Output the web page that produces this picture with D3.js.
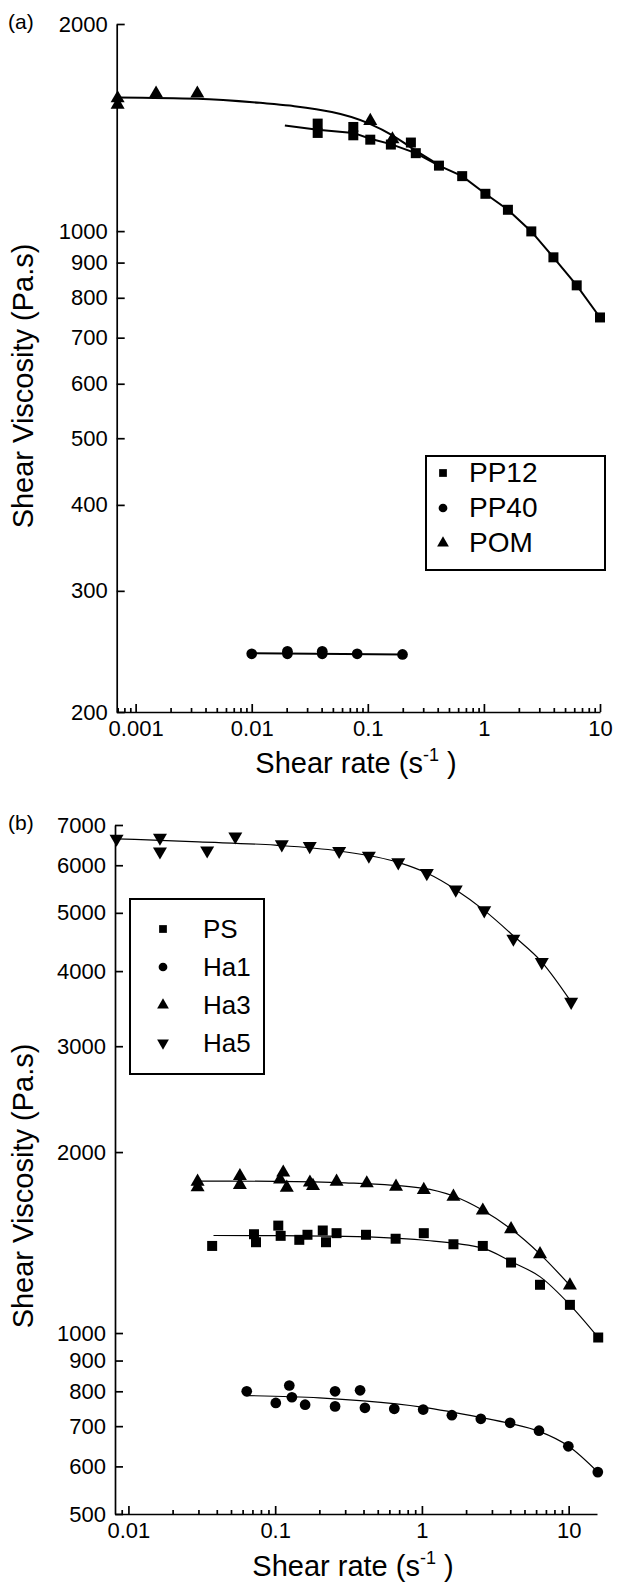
<!DOCTYPE html>
<html>
<head>
<meta charset="utf-8">
<script src="https://cdn.jsdelivr.net/npm/d3@7"></script>
<style>
  body { margin: 0; background: #fff; }
  svg { display: block; font-family: "Liberation Sans", Arial, sans-serif; }
</style>
</head>
<body>
<div id="chart"></div>
<script>
/*** DATA : panel (a) ***********************************************************/
let pp12Rate = [0.037, 0.037, 0.075, 0.075, 0.105, 0.158, 0.235, 0.259, 0.41, 0.65, 1.03, 1.61, 2.56, 3.97, 6.3, 10];
let pp12Visc = [1433, 1389, 1417, 1378, 1358, 1336, 1345, 1298, 1245, 1202, 1133, 1074, 999, 916, 834, 749];
let pp12FitRate = [0.0193, 0.037, 0.075, 0.105, 0.158, 0.259, 0.41, 0.65, 1.03, 1.61, 2.56, 3.97, 6.3, 10];
let pp12FitVisc = [1424, 1404, 1389, 1362, 1338, 1298, 1245, 1202, 1133, 1074, 999, 916, 834, 749];

let pp40Rate = [0.01, 0.0203, 0.0203, 0.0405, 0.0405, 0.081, 0.199];
let pp40Visc = [243, 245, 243, 245, 243, 243, 242.5];
let pp40FitRate = [0.01, 0.199];
let pp40FitVisc = [243.5, 242.5];

let pomRate = [0.0007, 0.0007, 0.0015, 0.0034, 0.105, 0.163];
let pomVisc = [1560, 1527, 1585, 1585, 1446, 1360];
let pomFitRate = [0.0007, 0.0034, 0.0118, 0.0213, 0.103, 0.163, 0.243, 0.41];
let pomFitVisc = [1564, 1557, 1536, 1522, 1433, 1378, 1318, 1248];

let ticksA = [200, 300, 400, 500, 600, 700, 800, 900, 1000, 2000];
let legendA = ["PP12", "PP40", "POM"];

/*** DATA : panel (b) ***********************************************************/
let psRate = [0.0372, 0.0717, 0.074, 0.105, 0.109, 0.146, 0.166, 0.211, 0.222, 0.262, 0.416, 0.662, 1.03, 1.64, 2.6, 4.05, 6.38, 10.2, 15.9];
let psVisc = [1396, 1460, 1416, 1509, 1451, 1429, 1457, 1481, 1416, 1466, 1457, 1435, 1466, 1405, 1396, 1310, 1203, 1114, 983];
let psFitRate = [0.038, 0.1, 0.3, 1, 2.6, 4.05, 6.4, 10.2, 15.9];
let psFitVisc = [1453, 1452, 1448, 1428, 1384, 1315, 1240, 1114, 983];

let ha1Rate = [0.064, 0.101, 0.1248, 0.13, 0.16, 0.256, 0.256, 0.379, 0.409, 0.648, 1.02, 1.6, 2.52, 3.99, 6.28, 9.95, 15.8];
let ha1Visc = [800, 765, 818, 782, 760, 800, 755, 803, 751, 748, 746, 730, 720, 709, 688, 648, 587];
let ha1FitRate = [0.064, 0.2, 0.4, 1, 2.5, 4, 6.3, 10, 15.8];
let ha1FitVisc = [787, 780, 771, 753, 724, 707, 686, 648, 587];

let ha3Rate = [0.0296, 0.0296, 0.0575, 0.0575, 0.108, 0.1135, 0.12, 0.1725, 0.181, 0.262, 0.421, 0.666, 1.03, 1.64, 2.6, 4.05, 6.38, 10.2];
let ha3Visc = [1786, 1748, 1825, 1764, 1800, 1849, 1745, 1780, 1757, 1786, 1775, 1752, 1730, 1686, 1599, 1489, 1353, 1200];
let ha3FitRate = [0.029, 0.1, 0.3, 1, 1.64, 2.6, 4.05, 6.38, 10.2];
let ha3FitVisc = [1790, 1788, 1778, 1742, 1690, 1600, 1489, 1353, 1200];

let ha5Rate = [0.0083, 0.0164, 0.0164, 0.0344, 0.0535, 0.111, 0.172, 0.273, 0.435, 0.69, 1.08, 1.7, 2.66, 4.2, 6.56, 10.4];
let ha5Visc = [6642, 6668, 6325, 6350, 6700, 6500, 6457, 6336, 6223, 6066, 5823, 5465, 5047, 4528, 4141, 3556];
let ha5FitRate = [0.0083, 0.03, 0.1, 0.273, 0.69, 1.08, 1.7, 2.66, 4.2, 6.56, 10.4];
let ha5FitVisc = [6640, 6560, 6480, 6336, 6066, 5823, 5465, 5047, 4580, 4141, 3556];

let ticksB = [500, 600, 700, 800, 900, 1000, 2000, 3000, 4000, 5000, 6000, 7000];
let legendB = ["PS", "Ha1", "Ha3", "Ha5"];

let xMajor = [0.001, 0.01, 0.1, 1, 10];

/*******************************************************************************/

function zip(xs, ys) { return xs.map(function(x, i) { return [x, ys[i]]; }); }

function minorTicks(domain) {
  let out = [];
  for (let e = -4; e <= 1; e++) {
    for (let m = 2; m <= 9; m++) {
      let v = m * Math.pow(10, e);
      if (v >= domain[0] && v <= domain[1]) out.push(v);
    }
  }
  return out;
}

let svg = d3.select("#chart").append("svg")
  .attr("width", 625)
  .attr("height", 1590);

/* marker shapes */
let shapes = {
  square:   d3.symbol().type(d3.symbolSquare).size(100),
  circle:   d3.symbol().type(d3.symbolCircle).size(90),
  triangle: d3.symbol().type(d3.symbolTriangle).size(85),
  down:     d3.symbol().type(d3.symbolTriangle).size(85)
};

function panel(cfg) {
  let x = d3.scaleLog().domain(cfg.xDomain).range(cfg.xRange);
  let y = d3.scaleLog().domain(cfg.yDomain).range(cfg.yRange);
  let g = svg.append("g");

  /* axes */
  let yAxis = d3.axisLeft(y)
    .tickValues(cfg.yTicks)
    .tickFormat(d3.format("d"))
    .tickSizeInner(-8).tickSizeOuter(0).tickPadding(9);
  let ay = g.append("g").attr("transform", "translate(" + cfg.xRange[0] + ",0)").call(yAxis);

  let xAxis = d3.axisBottom(x)
    .tickValues(xMajor.filter(function(v) { return v >= cfg.xDomain[0] && v <= cfg.xDomain[1]; }))
    .tickFormat(function(d) { return d >= 1 ? d3.format("d")(d) : d3.format("")(d); })
    .tickSizeInner(-8).tickSizeOuter(0).tickPadding(8);
  let ax = g.append("g").attr("transform", "translate(0," + cfg.yRange[0] + ")").call(xAxis);

  let xMinor = d3.axisBottom(x)
    .tickValues(minorTicks(cfg.xDomain))
    .tickFormat("")
    .tickSizeInner(-4).tickSizeOuter(0);
  g.append("g").attr("transform", "translate(0," + cfg.yRange[0] + ")").call(xMinor)
    .select(".domain").remove();

  [ax, ay].forEach(function(a) {
    a.selectAll("path, line").attr("stroke", "#000").attr("stroke-width", 1.7);
    a.selectAll("text").attr("fill", "#000").style("font-size", "22px")
      .style("font-family", "'Liberation Sans', Arial, sans-serif");
  });
  g.selectAll("line").attr("stroke", "#000").attr("stroke-width", 1.7);

  /* fit lines */
  cfg.series.forEach(function(s) {
    let line = d3.line()
      .x(function(d) { return x(d[0]); })
      .y(function(d) { return y(d[1]); })
      .curve(s.curve || d3.curveMonotoneX);
    g.append("path")
      .attr("d", line(zip(s.fitRate, s.fitVisc)))
      .attr("fill", "none")
      .attr("stroke", "#000")
      .attr("stroke-width", cfg.lineWidth);
  });

  /* points */
  cfg.series.forEach(function(s) {
    g.selectAll(null)
      .data(zip(s.rate, s.visc))
      .enter().append("path")
      .attr("d", shapes[s.shape])
      .attr("transform", function(d) {
        return "translate(" + x(d[0]) + "," + y(d[1]) + ")" + (s.shape == "down" ? " rotate(180)" : "");
      })
      .attr("fill", "#000");
  });

  /* panel letter */
  g.append("text").text(cfg.letter)
    .attr("x", 8).attr("y", cfg.yRange[1] + 5)
    .style("font-size", "21px");

  /* axis titles */
  g.append("text")
    .attr("transform", "translate(33," + cfg.yTitleY + ") rotate(-90)")
    .attr("text-anchor", "middle")
    .style("font-size", "29px")
    .text("Shear Viscosity (Pa.s)");

  let xt = g.append("text")
    .attr("x", cfg.xTitleX).attr("y", cfg.xTitleY)
    .attr("text-anchor", "middle")
    .style("font-size", "29px");
  xt.append("tspan").text("Shear rate (s");
  xt.append("tspan").text("-1").style("font-size", "18px").attr("dy", -12);
  xt.append("tspan").text(" )").attr("dy", 12);

  /* legend */
  let L = cfg.legend;
  g.append("rect")
    .attr("x", L.x).attr("y", L.y).attr("width", L.w).attr("height", L.h)
    .attr("fill", "#fff").attr("stroke", "#000").attr("stroke-width", 2);
  let legendG = g.selectAll(null)
    .data(cfg.series)
    .enter().append("g")
    .attr("transform", function(d, i) {
      return "translate(" + L.markX + "," + (L.rowY + i * L.step) + ")";
    });
  legendG.append("path")
    .attr("d", function(d) {
      let t = d.shape == "square" ? d3.symbolSquare : d.shape == "circle" ? d3.symbolCircle : d3.symbolTriangle;
      return d3.symbol().type(t).size(60)();
    })
    .attr("transform", function(d) { return d.shape == "down" ? "rotate(180)" : null; })
    .attr("fill", "#000");
  legendG.append("text")
    .text(function(d) { return d.name; })
    .attr("x", L.textDx).attr("y", 9)
    .style("font-size", L.font);
}

panel({
  letter: "(a)",
  xDomain: [0.000687, 10], xRange: [116.7, 600],
  yDomain: [200, 2000], yRange: [712, 24],
  yTicks: ticksA,
  lineWidth: 2,
  yTitleY: 386, xTitleX: 356, xTitleY: 773,
  legend: { x: 426, y: 456, w: 179, h: 114, markX: 443, rowY: 473, step: 35, textDx: 26, font: "28px" },
  series: [
    { name: legendA[0], shape: "square", rate: pp12Rate, visc: pp12Visc, fitRate: pp12FitRate, fitVisc: pp12FitVisc, curve: d3.curveLinear },
    { name: legendA[1], shape: "circle", rate: pp40Rate, visc: pp40Visc, fitRate: pp40FitRate, fitVisc: pp40FitVisc, curve: d3.curveLinear },
    { name: legendA[2], shape: "triangle", rate: pomRate, visc: pomVisc, fitRate: pomFitRate, fitVisc: pomFitVisc }
  ]
});

panel({
  letter: "(b)",
  xDomain: [0.0081, 15.6], xRange: [115, 597],
  yDomain: [500, 7000], yRange: [1514, 825],
  yTicks: ticksB,
  lineWidth: 1.2,
  yTitleY: 1186, xTitleX: 353, xTitleY: 1576,
  legend: { x: 130, y: 899, w: 134, h: 175, markX: 163, rowY: 929, step: 38, textDx: 40, font: "26px" },
  series: [
    { name: legendB[0], shape: "square", rate: psRate, visc: psVisc, fitRate: psFitRate, fitVisc: psFitVisc },
    { name: legendB[1], shape: "circle", rate: ha1Rate, visc: ha1Visc, fitRate: ha1FitRate, fitVisc: ha1FitVisc },
    { name: legendB[2], shape: "triangle", rate: ha3Rate, visc: ha3Visc, fitRate: ha3FitRate, fitVisc: ha3FitVisc },
    { name: legendB[3], shape: "down", rate: ha5Rate, visc: ha5Visc, fitRate: ha5FitRate, fitVisc: ha5FitVisc }
  ]
});
</script>
</body>
</html>
